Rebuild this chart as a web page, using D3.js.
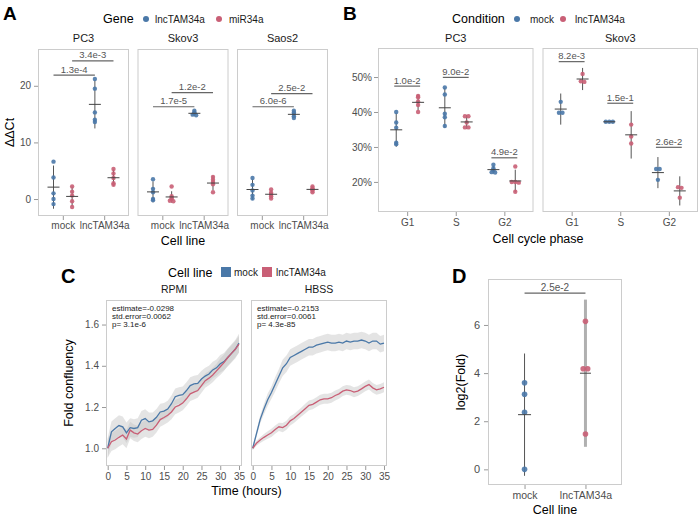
<!DOCTYPE html>
<html><head><meta charset="utf-8">
<script src="https://cdn.jsdelivr.net/npm/d3@7"></script>
<style>body{margin:0;background:#fff} svg{display:block}</style>
</head><body><script>
// ================= DATA =================
// Panel A
const aPanels = ["PC3","Skov3","Saos2"];
const aCategories = ["mock","lncTAM34a"];
const aGenes = ["lncTAM34a","miR34a"];
const aPC3_lnc_mock   = [6.6,3.8,1.0,0.0,-0.9];
const aPC3_lnc_lnc    = [21.2,19.5,15.3,14.0,13.6];
const aPC3_mir_mock   = [2.2,1.3,0.6,-0.4,-1.4];
const aPC3_mir_lnc    = [5.3,4.5,3.7,2.8,2.5];
const aSkov3_lnc_mock = [3.5,1.8,1.2,0.0,-0.2];
const aSkov3_lnc_lnc  = [15.6,15.3,15.1,14.9,14.8];
const aSkov3_mir_mock = [2.2,0.5,0.2,0.0,-0.3,-0.4];
const aSkov3_mir_lnc  = [3.9,3.4,3.0,2.6,1.2];
const aSaos2_lnc_mock = [3.7,2.5,1.5,0.6,0.1];
const aSaos2_lnc_lnc  = [15.6,15.3,15.0,14.6,14.3];
const aSaos2_mir_mock = [1.7,1.1,0.8,0.5,0.1];
const aSaos2_mir_lnc  = [2.2,1.9,1.7,1.5,1.2];
const aTicksY = [0,10,20];
const aPLabels  = [["1.3e-4","3.4e-3"],["1.7e-5","1.2e-2"],["6.0e-6","2.5e-2"]];
const aPHeights = [[21.9,24.4],[16.3,18.8],[16.3,18.6]];

// Panel B
const bPanels = ["PC3","Skov3"];
const bPhases = ["G1","S","G2"];
const bConditions = ["mock","lncTAM34a"];
const bPC3_mock_G1 = [40.0,37.0,35.5,31.2,30.8];
const bPC3_lnc_G1  = [44.6,44.2,43.0,42.0,40.0];
const bPC3_mock_S  = [47.0,45.0,39.5,38.5,36.0];
const bPC3_lnc_S   = [38.8,38.8,37.0,35.6,35.6];
const bPC3_mock_G2 = [24.9,23.9,23.3,22.8,22.7];
const bPC3_lnc_G2  = [24.4,20.0,20.0,19.8,17.2];
const bSkov3_mock_G1 = [42.9,39.8,39.8];
const bSkov3_lnc_G1  = [50.9,48.8,48.6];
const bSkov3_mock_S  = [37.2,37.2,37.2];
const bSkov3_lnc_S   = [36.4,33.0,31.0];
const bSkov3_mock_G2 = [23.7,23.7,20.6];
const bSkov3_lnc_G2  = [18.5,18.3,15.5];
const bTicksY = [20,30,40,50];
const bPLabels  = [["1.0e-2","9.0e-2","4.9e-2"],["8.2e-3","1.5e-1","2.6e-2"]];
const bPHeights = [[47.4,49.9,26.9],[54.4,42.5,29.9]];

// Panel C
const cMedia = ["RPMI","HBSS"];
const cHours = [0,1,2,3,4,5,6,7,8,9,10,11,12,13,14,15,16,17,18,19,20,21,22,23,24,25,26,27,28,29,30,31,32,33,34,35];
const cRPMI_mock = [1.00,1.08,1.096,1.11,1.104,1.075,1.10,1.096,1.10,1.136,1.144,1.128,1.133,1.15,1.176,1.18,1.19,1.216,1.25,1.256,1.26,1.28,1.304,1.312,1.315,1.336,1.35,1.36,1.38,1.39,1.41,1.42,1.44,1.46,1.48,1.51];
const cRPMI_lnc  = [1.00,1.032,1.04,1.053,1.064,1.045,1.088,1.075,1.069,1.085,1.096,1.088,1.091,1.112,1.139,1.149,1.16,1.176,1.20,1.208,1.219,1.24,1.264,1.272,1.28,1.304,1.328,1.34,1.355,1.375,1.395,1.415,1.44,1.46,1.48,1.505];
const cHBSS_mock = [1.00,1.07,1.14,1.19,1.235,1.27,1.31,1.35,1.39,1.41,1.44,1.45,1.46,1.47,1.48,1.49,1.49,1.50,1.505,1.51,1.515,1.51,1.51,1.515,1.51,1.52,1.515,1.52,1.52,1.525,1.52,1.51,1.52,1.52,1.505,1.51];
const cHBSS_lnc  = [1.00,1.024,1.04,1.053,1.064,1.075,1.091,1.104,1.10,1.112,1.133,1.144,1.16,1.176,1.192,1.208,1.213,1.224,1.235,1.24,1.24,1.245,1.256,1.264,1.277,1.283,1.28,1.272,1.277,1.288,1.30,1.309,1.293,1.283,1.288,1.296];
const cRPMI_mock_ci = [0.05,0.05,0.05,0.05,0.05,0.05,0.045,0.045,0.045,0.045,0.045,0.045,0.04,0.04,0.04,0.04,0.04,0.04,0.04,0.04,0.04,0.04,0.04,0.04,0.04,0.04,0.04,0.04,0.04,0.04,0.042,0.042,0.044,0.044,0.045,0.045];
const cRPMI_lnc_ci  = [0.045,0.045,0.045,0.045,0.045,0.045,0.04,0.04,0.04,0.04,0.04,0.04,0.035,0.035,0.035,0.035,0.035,0.035,0.035,0.035,0.035,0.035,0.035,0.035,0.035,0.035,0.035,0.035,0.035,0.035,0.04,0.04,0.04,0.04,0.04,0.04];
const cHBSS_mock_ci = [0.01,0.015,0.02,0.025,0.03,0.03,0.035,0.035,0.04,0.04,0.04,0.04,0.04,0.04,0.04,0.04,0.04,0.04,0.04,0.04,0.04,0.04,0.04,0.04,0.04,0.04,0.04,0.04,0.04,0.04,0.04,0.04,0.04,0.04,0.04,0.04];
const cHBSS_lnc_ci  = [0.01,0.012,0.014,0.016,0.018,0.02,0.02,0.02,0.022,0.022,0.022,0.022,0.022,0.022,0.024,0.024,0.024,0.024,0.024,0.024,0.024,0.024,0.024,0.024,0.024,0.024,0.024,0.024,0.024,0.024,0.024,0.024,0.024,0.024,0.024,0.024];
const cStats = [["estimate=-0.0298","std.error=0.0062","p= 3.1e-6"],["estimate=-0.2153","std.error=0.0061","p= 4.3e-85"]];
const cTicksX = [0,5,10,15,20,25,30,35];
const cTicksY = [1.0,1.2,1.4,1.6];

// Panel D
const dCategories = ["mock","lncTAM34a"];
const dMock = [3.6,3.12,2.37,0.0];
const dLnc  = [6.15,4.18,4.18,1.47];
const dTicksY = [0,2,4,6];
const dPLabel = "2.5e-2";
const dPHeight = 7.32;

// ================= DRAWING =================
const FONT = "'Liberation Sans', Arial, Helvetica, sans-serif";
const BLUE = "#4a78a8", RED = "#c95f76";
const BORDER = "#cccccc", TICK = "#999999", TICKTXT = "#4d4d4d";
const svg = d3.select("body").append("svg").attr("width",700).attr("height",516)
  .style("font-family",FONT);

function txt(x,y,s,size,opts={}){
  const t = svg.append("text").attr("x",x).attr("y",y).text(s)
    .attr("font-size",size).attr("fill",opts.fill||"#000")
    .attr("text-anchor",opts.anchor||"start");
  if(opts.bold) t.attr("font-weight","bold");
  if(opts.rotate) t.attr("transform",`rotate(-90,${x},${y})`);
  return t;
}
function frame(x0,y0,x1,y1){
  svg.append("rect").attr("x",x0+0.5).attr("y",y0+0.5).attr("width",x1-x0-1).attr("height",y1-y0-1)
    .attr("fill","none").attr("stroke",BORDER).attr("stroke-width",1);
}
function styleAxis(g,size){
  g.attr("font-family",FONT);
  g.select(".domain").remove();
  g.selectAll(".tick line").attr("stroke",TICK);
  g.selectAll(".tick text").attr("fill",TICKTXT).attr("font-size",size||10);
}
const TCRIT = {2:12.706,3:4.303,4:3.182,5:2.776,6:2.571,7:2.447};
function stats(v){
  const n=v.length, m=d3.mean(v), sd=n>1?d3.deviation(v):0;
  const h=(TCRIT[n]||2)*sd/Math.sqrt(n);
  return {m, lo:m-h, hi:m+h};
}
// spread only (near-)coincident points sideways
function swarm(vals,y,r){
  const idx = vals.map((v,i)=>i).sort((a,b)=>y(vals[a])-y(vals[b]));
  const off = new Array(vals.length).fill(0);
  let cl=[idx[0]];
  const flush=()=>cl.forEach((k,j)=>off[k]=(j-(cl.length-1)/2)*r*1.6);
  for(let j=1;j<idx.length;j++){
    if(Math.abs(y(vals[idx[j]])-y(vals[idx[j-1]]))<r*0.5) cl.push(idx[j]);
    else {flush(); cl=[idx[j]];}
  }
  flush();
  return off;
}
function drawGroup(cx,vals,y,color,r,opt={}){
  const s=stats(vals);
  svg.append("line").attr("x1",cx).attr("x2",cx).attr("y1",y(s.lo)).attr("y2",y(s.hi))
    .attr("stroke",opt.barColor||"#555").attr("stroke-width",opt.barWidth||1);
  const off=swarm(vals,y,r);
  svg.append("g").selectAll("circle").data(vals).enter().append("circle")
    .attr("cx",(d,i)=>cx+off[i]).attr("cy",d=>y(d)).attr("r",r)
    .attr("fill",color).attr("fill-opacity",0.9);
  const hw=opt.meanHalf||6;
  svg.append("line").attr("x1",cx-hw).attr("x2",cx+hw).attr("y1",y(s.m)).attr("y2",y(s.m))
    .attr("stroke","#444").attr("stroke-width",1);
}
function pBar(xa,xb,yy,label,size){
  svg.append("line").attr("x1",xa).attr("x2",xb).attr("y1",yy).attr("y2",yy)
    .attr("stroke","#666").attr("stroke-width",1.2);
  txt((xa+xb)/2,yy-2.5,label,size||9.5,{anchor:"middle",fill:"#555"});
}

// ---------- Panel A ----------
txt(3,20,"A",19,{bold:true});
txt(103,23,"Gene",12.5);
svg.append("circle").attr("cx",146).attr("cy",19).attr("r",3).attr("fill",BLUE);
txt(155,23,aGenes[0],10,{fill:"#1a1a1a"});
svg.append("circle").attr("cx",219).attr("cy",19).attr("r",3).attr("fill",RED);
txt(229,23,aGenes[1],10,{fill:"#1a1a1a"});

const aL={left:38,width:91,gap:8.5,top:49,bottom:216};
const yA=d3.scaleLinear().domain([-3.0,26.5]).range([aL.bottom,aL.top]);
const aData=[
  [[aPC3_lnc_mock,aPC3_lnc_lnc],[aPC3_mir_mock,aPC3_mir_lnc]],
  [[aSkov3_lnc_mock,aSkov3_lnc_lnc],[aSkov3_mir_mock,aSkov3_mir_lnc]],
  [[aSaos2_lnc_mock,aSaos2_lnc_lnc],[aSaos2_mir_mock,aSaos2_mir_lnc]]
];
aPanels.forEach((name,pi)=>{
  const x0=aL.left+pi*(aL.width+aL.gap), w=aL.width, x1=x0+w;
  const xs=d3.scalePoint().domain(aCategories).range([x0+0.6/2.2*w,x0+1.6/2.2*w]);
  const dodge=0.225*xs.step();
  frame(x0,aL.top,x1,aL.bottom);
  txt((x0+x1)/2,42,name,11,{anchor:"middle",fill:"#1a1a1a"});
  if(pi===0){
    const g=svg.append("g").attr("transform",`translate(${x0},0)`)
      .call(d3.axisLeft(yA).tickValues(aTicksY).tickSize(4).tickPadding(3));
    styleAxis(g);
  }
  const gx=svg.append("g").attr("transform",`translate(0,${aL.bottom})`)
    .call(d3.axisBottom(xs).tickSize(4).tickPadding(2));
  styleAxis(gx);
  aGenes.forEach((gene,gi)=>{
    const off=gi===0?-dodge:dodge, col=gi===0?BLUE:RED;
    aCategories.forEach((c,ci)=>drawGroup(xs(c)+off,aData[pi][gi][ci],yA,col,2.2));
  });
  aGenes.forEach((gene,gi)=>{
    const off=gi===0?-dodge:dodge;
    pBar(xs(aCategories[0])+off,xs(aCategories[1])+off,yA(aPHeights[pi][gi]),aPLabels[pi][gi]);
  });
});
txt(183,245,"Cell line",12.5,{anchor:"middle"});
txt(14,132.5,"ΔΔCt",12.5,{anchor:"middle",rotate:true});

// ---------- Panel B ----------
txt(343,20,"B",19,{bold:true});
txt(452,23,"Condition",12.5);
svg.append("circle").attr("cx",517).attr("cy",19).attr("r",3).attr("fill",BLUE);
txt(530,23,bConditions[0],10,{fill:"#1a1a1a"});
svg.append("circle").attr("cx",563).attr("cy",19).attr("r",3).attr("fill",RED);
txt(575,23,bConditions[1],10,{fill:"#1a1a1a"});

const bL={left:378,width:155.5,gap:9,top:48,bottom:212};
const yB=d3.scaleLinear().domain([11.4,58.3]).range([bL.bottom,bL.top]);
const bData=[
  [[bPC3_mock_G1,bPC3_lnc_G1],[bPC3_mock_S,bPC3_lnc_S],[bPC3_mock_G2,bPC3_lnc_G2]],
  [[bSkov3_mock_G1,bSkov3_lnc_G1],[bSkov3_mock_S,bSkov3_lnc_S],[bSkov3_mock_G2,bSkov3_lnc_G2]]
];
bPanels.forEach((name,pi)=>{
  const x0=bL.left+pi*(bL.width+bL.gap), w=bL.width, x1=x0+w;
  const xs=d3.scalePoint().domain(bPhases).range([x0+0.6/3.2*w,x0+2.6/3.2*w]);
  const dodge=0.225*xs.step();
  frame(x0,bL.top,x1,bL.bottom);
  txt((x0+x1)/2,42,name,11,{anchor:"middle",fill:"#1a1a1a"});
  if(pi===0){
    const g=svg.append("g").attr("transform",`translate(${x0},0)`)
      .call(d3.axisLeft(yB).tickValues(bTicksY).tickSize(4).tickPadding(2).tickFormat(d=>d+"%"));
    styleAxis(g);
  }
  const gx=svg.append("g").attr("transform",`translate(0,${bL.bottom})`)
    .call(d3.axisBottom(xs).tickSize(4).tickPadding(3));
  styleAxis(gx);
  bPhases.forEach((ph,phi)=>{
    bConditions.forEach((c,ci)=>{
      const off=ci===0?-dodge:dodge, col=ci===0?BLUE:RED;
      drawGroup(xs(ph)+off,bData[pi][phi][ci],yB,col,2.2);
    });
    pBar(xs(ph)-dodge-2,xs(ph)+dodge+2,yB(bPHeights[pi][phi]),bPLabels[pi][phi]);
  });
});
txt(538,243,"Cell cycle phase",12.5,{anchor:"middle"});

// ---------- Panel C ----------
txt(61,283,"C",20,{bold:true});
txt(168,277,"Cell line",12.5);
svg.append("rect").attr("x",221).attr("y",267).attr("width",10).attr("height",10).attr("fill",BLUE);
txt(234,276,"mock",10,{fill:"#1a1a1a"});
svg.append("rect").attr("x",262).attr("y",267).attr("width",10).attr("height",10).attr("fill",RED);
txt(276,276,"lncTAM34a",10,{fill:"#1a1a1a"});

const cL={left:106,width:136,gap:9,top:300,bottom:466};
const yC=d3.scaleLinear().domain([0.914,1.719]).range([cL.bottom,cL.top]);
const cData=[
  [[cRPMI_mock,cRPMI_mock_ci],[cRPMI_lnc,cRPMI_lnc_ci]],
  [[cHBSS_mock,cHBSS_mock_ci],[cHBSS_lnc,cHBSS_lnc_ci]]
];
cMedia.forEach((name,pi)=>{
  const x0=cL.left+pi*(cL.width+cL.gap), w=cL.width, x1=x0+w;
  const xs=d3.scaleLinear().domain([-0.45,35.8]).range([x0,x1]);
  txt((x0+x1)/2,292.5,name,10.5,{anchor:"middle",fill:"#1a1a1a"});
  if(pi===0){
    const g=svg.append("g").attr("transform",`translate(${x0},0)`)
      .call(d3.axisLeft(yC).tickValues(cTicksY).tickSize(4).tickPadding(3).tickFormat(d3.format(".1f")));
    styleAxis(g);
  }
  const gx=svg.append("g").attr("transform",`translate(0,${cL.bottom})`)
    .call(d3.axisBottom(xs).tickValues(cTicksX).tickSize(4).tickPadding(3));
  styleAxis(gx);
  const area=d3.area().x((d,i)=>xs(cHours[i])).y0(d=>yC(d[0]-d[1])).y1(d=>yC(d[0]+d[1]));
  const line=d3.line().x((d,i)=>xs(cHours[i])).y(d=>yC(d));
  cData[pi].forEach(([vals,ci])=>{
    svg.append("path").datum(vals.map((v,i)=>[v,ci[i]])).attr("d",area)
      .attr("fill","#c4c4c4").attr("fill-opacity",0.45);
  });
  cData[pi].forEach(([vals],si)=>{
    svg.append("path").datum(vals).attr("d",line).attr("fill","none")
      .attr("stroke",si===0?BLUE:RED).attr("stroke-width",1.3);
  });
  frame(x0,cL.top,x1,cL.bottom);
  cStats[pi].forEach((s,k)=>txt(x0+6,311+k*8,s,8,{fill:"#1a1a1a"}));
});
txt(246.5,495,"Time (hours)",12.5,{anchor:"middle"});
txt(73,383,"Fold confluency",12.5,{anchor:"middle",rotate:true});

// ---------- Panel D ----------
txt(452,283,"D",20,{bold:true});
const dL={left:488,right:622,top:279,bottom:485};
const yD=d3.scaleLinear().domain([-0.65,7.91]).range([dL.bottom,dL.top]);
const xD=d3.scalePoint().domain(dCategories)
  .range([dL.left+0.6/2.2*(dL.right-dL.left),dL.left+1.6/2.2*(dL.right-dL.left)]);
frame(dL.left,dL.top,dL.right,dL.bottom);
styleAxis(svg.append("g").attr("transform",`translate(${dL.left},0)`)
  .call(d3.axisLeft(yD).tickValues(dTicksY).tickSize(4).tickPadding(4)),11);
styleAxis(svg.append("g").attr("transform",`translate(0,${dL.bottom})`)
  .call(d3.axisBottom(xD).tickSize(4).tickPadding(3)),10.5);
drawGroup(xD(dCategories[0]),dMock,yD,BLUE,2.8,{meanHalf:6.5});
drawGroup(xD(dCategories[1]),dLnc,yD,RED,2.8,{barColor:"#b0b0b0",barWidth:3,meanHalf:5.5});
pBar(xD(dCategories[0]),xD(dCategories[1]),yD(dPHeight),dPLabel,10);
txt(555,514,"Cell line",12.5,{anchor:"middle"});
txt(465,382,"log2(Fold)",12.5,{anchor:"middle",rotate:true});
</script></body></html>
